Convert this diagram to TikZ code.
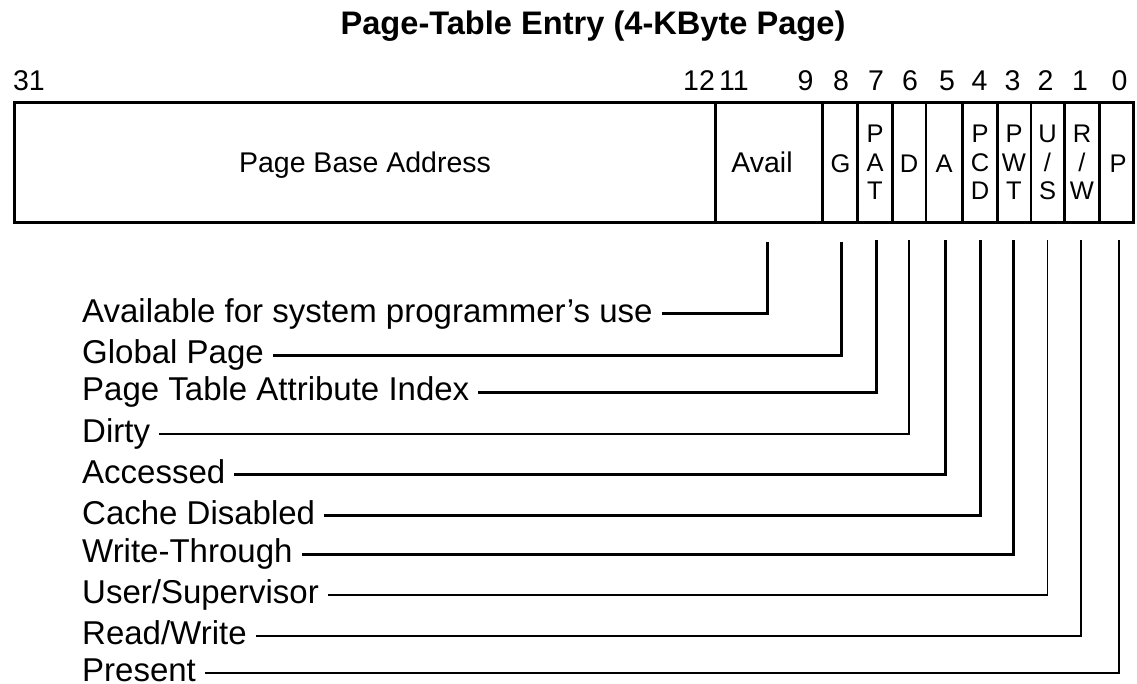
\documentclass[tikz,border=0pt]{standalone}
\usepackage{fontspec}
\setmainfont{Liberation Sans}
\begin{document}
\begin{tikzpicture}[x=1pt,y=-1pt,
  title/.style={font=\fontsize{32.6}{34}\selectfont\bfseries, inner sep=0pt, anchor=base},
  bitnum/.style={font=\fontsize{28.5}{30}\selectfont, inner sep=0pt, anchor=base},
  field/.style={font=\fontsize{28.5}{30}\selectfont, inner sep=0pt, anchor=base},
  flag/.style={font=\fontsize{25.5}{28.7}\selectfont, inner sep=0pt, align=center},
  lbl/.style={font=\fontsize{33}{35}\selectfont, inner sep=0pt, anchor=base west},
  frame/.style={line width=3pt},
  thickdiv/.style={line width=3pt},
  thindiv/.style={line width=1.7pt},
  conn/.style={draw, line width=#1},
]
\useasboundingbox (0,0) rectangle (1137,684);

% title
\node[title] (title) at (593,35) {Page-Table Entry (4-KByte Page)};

% bit numbers
\node[bitnum] (b31) at (29,91) {31};
\node[bitnum] (b12) at (699,91) {12};
\node[bitnum] (b11) at (734,91) {11};
\node[bitnum] (b9) at (805.5,91) {9};
\node[bitnum] (b8) at (841,91) {8};
\node[bitnum] (b7) at (876,91) {7};
\node[bitnum] (b6) at (910,91) {6};
\node[bitnum] (b5) at (947,91) {5};
\node[bitnum] (b4) at (979.5,91) {4};
\node[bitnum] (b3) at (1012.5,91) {3};
\node[bitnum] (b2) at (1045.5,91) {2};
\node[bitnum] (b1) at (1080,91) {1};
\node[bitnum] (b0) at (1119.5,91) {0};

% register frame and dividers
\draw[frame] (14,102.7) rectangle (1133,222.3);
\foreach \xx in {715.7,822.7,857.7,892,962.3,997.3,1064.3,1099.3}
  \draw[thickdiv] (\xx,102.7) -- (\xx,222.3);
\foreach \xx in {926,1030.7}
  \draw[thindiv] (\xx,102.7) -- (\xx,222.3);

% field texts
\node[field] (fpba) at (365,173) {Page Base Address};
\node[field] (favail) at (762,173) {Avail};
\node[flag, anchor=base] (fg) at (840.5,173) {G};
\node[flag] (fpat) at (875,162.5) {P\\A\\T};
\node[flag, anchor=base] (fd) at (909,173) {D};
\node[flag, anchor=base] (fa) at (944,173) {A};
\node[flag] (fpcd) at (980,162.5) {P\\C\\D};
\node[flag] (fpwt) at (1014,162.5) {P\\W\\T};
\node[flag] (fus) at (1047.5,162.5) {U\\/\\S};
\node[flag] (frw) at (1082,162.5) {R\\/\\W};
\node[flag, anchor=base] (fp) at (1118,173) {P};

% connector tops
\coordinate (tavail) at (767.7,242);
\coordinate (tg) at (841.3,242);
\coordinate (tpat) at (876,240);
\coordinate (td) at (909,240);
\coordinate (ta) at (945.7,240);
\coordinate (tpcd) at (980.7,240);
\coordinate (tpwt) at (1013.3,240);
\coordinate (tus) at (1047.7,240);
\coordinate (trw) at (1081,240);
\coordinate (tp) at (1119,240);

% labels
\node[lbl] (lavail) at (82,322.5) {Available for system programmer’s use};
\node[lbl] (lg) at (82,363.5) {Global Page};
\node[lbl] (lpat) at (82,400.5) {Page Table Attribute Index};
\node[lbl] (ld) at (82,442.5) {Dirty};
\node[lbl] (la) at (82,483) {Accessed};
\node[lbl] (lpcd) at (82,524) {Cache Disabled};
\node[lbl] (lpwt) at (82,562.5) {Write-Through};
\node[lbl] (lus) at (82,603.5) {User/Supervisor};
\node[lbl] (lrw) at (82,644.5) {Read/Write};
\node[lbl] (lp) at (82,681.5) {Present};

% connectors
\draw[conn=3pt] ([xshift=9pt,yshift=8.5pt]lavail.base east) -| (tavail);
\draw[conn=3pt] ([xshift=9pt,yshift=8.5pt]lg.base east) -| (tg);
\draw[conn=3pt] ([xshift=9pt,yshift=8.5pt]lpat.base east) -| (tpat);
\draw[conn=2.4pt] ([xshift=9pt,yshift=8.5pt]ld.base east) -| (td);
\draw[conn=3pt] ([xshift=9pt,yshift=8.5pt]la.base east) -| (ta);
\draw[conn=3pt] ([xshift=9pt,yshift=8.5pt]lpcd.base east) -| (tpcd);
\draw[conn=3pt] ([xshift=9pt,yshift=8.5pt]lpwt.base east) -| (tpwt);
\draw[conn=1.4pt] ([xshift=9pt,yshift=8.5pt]lus.base east) -| (tus);
\draw[conn=2.2pt] ([xshift=9pt,yshift=8.5pt]lrw.base east) -| (trw);
\draw[conn=1.6pt] ([xshift=9pt,yshift=8.5pt]lp.base east) -| (tp);
\end{tikzpicture}
\end{document}
